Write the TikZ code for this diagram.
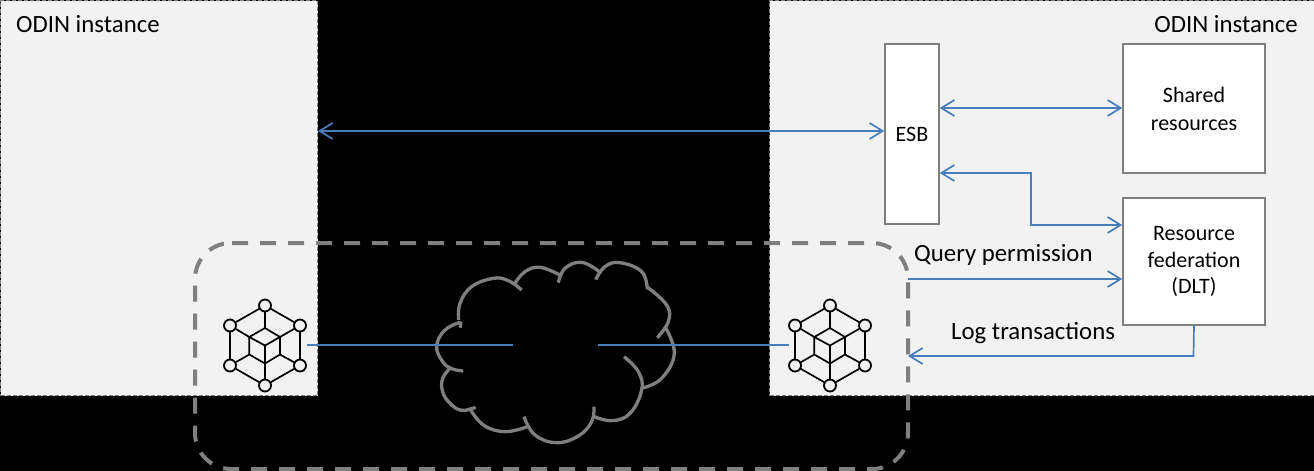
\documentclass[tikz,border=0pt]{standalone}
\usepackage{fontspec}
\setmainfont{Carlito}
\usetikzlibrary{arrows.meta}
\definecolor{panelfill}{HTML}{F2F2F2}
\definecolor{edgegray}{HTML}{7F7F7F}
\definecolor{linkblue}{HTML}{4A7EBB}
\tikzset{
  panel/.style={draw=edgegray,fill=panelfill,line width=1pt,dash pattern=on 4pt off 2pt,inner sep=0pt,minimum width=#1,minimum height=395pt},
  unit/.style={draw=edgegray,fill=white,line width=1.5pt,inner sep=0pt,align=center,font=\fontsize{22}{28}\selectfont},
  link/.style={draw=linkblue,line width=1.7pt},
  open both/.style={{Straight Barb[length=13pt,width=16pt,line width=1.7pt]}-{Straight Barb[length=13pt,width=16pt,line width=1.7pt]}},
  open end/.style={-{Straight Barb[length=13pt,width=16pt,line width=1.7pt]}},
  bigtext/.style={font=\fontsize{24.8}{28}\selectfont,inner sep=0pt,text=black},
  lobe/.style={draw=edgegray,line width=3.3pt,line cap=butt},
  hub/.style={circle,draw=black,fill=panelfill,line width=1.8pt,minimum size=12pt,inner sep=0pt},
  meshline/.style={draw=black,line width=1.7pt},
  pics/mesh/.style={code={
    \coordinate (-c) at (0,0);
    \draw[meshline] (-35,-20) -- (0,-40) -- (35,-20) -- (35,20) -- (0,40) -- (-35,20) -- cycle;
    \draw[meshline] (0,-17.5) -- (15,-8.5) -- (0,0) -- (-15.7,-8.5) -- cycle;
    \draw[meshline] (-15.7,-8.5) -- (-15.7,9) -- (0,18) -- (15,9) -- (15,-8.5);
    \draw[meshline] (0,0) -- (0,18);
    \draw[meshline] (0,-40) -- (0,-17.5);
    \draw[meshline] (0,18) -- (0,40);
    \draw[meshline] (-35,-20) -- (-15.7,-8.5);
    \draw[meshline] (35,-20) -- (15,-8.5);
    \draw[meshline] (-35,20) -- (-15.7,9);
    \draw[meshline] (35,20) -- (15,9);
    \foreach \hx/\hy in {0/-40,35/-20,35/20,0/40,-35/20,-35/-20}
      \node[hub] at (\hx,\hy) {};
  }}
}
\begin{document}
\begin{tikzpicture}[x=1pt,y=-1pt]
\useasboundingbox (0,0) rectangle (1314,471);
\fill[black] (0,0) rectangle (1314,471);
\node[panel=317pt,anchor=north west] (leftpanel) at (0,0) {};
\node[panel=545pt,anchor=north west] (rightpanel) at (769,0) {};
\node[bigtext,anchor=west] (lefttitle) at (16,24.5) {ODIN instance};
\node[bigtext,anchor=east] (righttitle) at (1298,24.5) {ODIN instance};

\node[unit,minimum width=54pt,minimum height=180pt] (esb) at (912,134) {ESB};
\node[unit,minimum width=142pt,minimum height=129pt] (shared) at (1194,108.5) {Shared\\resources};
\node[unit,minimum width=142pt,minimum height=127pt,font=\fontsize{22}{26.5}\selectfont] (fed) at (1194,261.5) {Resource\\federation\\(DLT)};

\pic (meshleft) at (265,345.5) {mesh};
\pic (meshright) at (830,345.5) {mesh};

% cloud
\begin{scope}[shift={(420,230)},x=0.3333pt,y=-0.3333pt]
\draw[lobe] plot[smooth,tension=0.7] coordinates {(120,293) (118,278) (72,303) (50,350) (68,395) (95,416) (130,423)};
\draw[lobe] plot[smooth,tension=0.7] coordinates {(92,413) (68,445) (68,485) (90,520) (125,541) (167,532)};
\draw[lobe] plot[smooth,tension=0.7] coordinates {(148,533) (190,585) (255,605) (322,590)};
\draw[lobe] plot[smooth,tension=0.7] coordinates {(312,560) (345,615) (410,638) (475,618) (515,575) (522,530)};
\draw[lobe] plot[smooth,tension=0.7] coordinates {(518,558) (575,572) (630,550) (665,480) (655,425) (612,380)};
\draw[lobe] plot[smooth,tension=0.7] coordinates {(668,474) (725,445) (763,370) (735,290)};
\draw[lobe] plot[smooth,tension=0.7] coordinates {(712,323) (745,275) (740,225) (680,170)};
\draw[lobe] plot[smooth,tension=0.7] coordinates {(682,178) (665,125) (600,98) (555,110) (527,149)};
\draw[lobe] plot[smooth,tension=0.7] coordinates {(538,125) (485,97) (435,115) (415,158)};
\draw[lobe] plot[smooth,tension=0.7] coordinates {(420,135) (360,112) (315,125) (285,160)};
\draw[lobe] plot[smooth,tension=0.7] coordinates {(305,180) (265,152) (220,145) (155,170) (120,220) (116,270)};
\end{scope}

% round dashed frame
\draw[draw=edgegray,line width=4pt,dash pattern=on 16pt off 12pt,rounded corners=36pt]
  (232,243) -- (908,243) -- (908,469) -- (195,469) -- (195,243) -- (232,243);

% connectors
\coordinate (cloudleft) at (513,345);
\coordinate (cloudright) at (598,345);
\coordinate (meshleftport) at (307,345);
\coordinate (meshrightport) at (789,345);
\coordinate (frameq) at (908,279);
\coordinate (framel) at (908,356);

\draw[link,open both] (leftpanel.east |- 0,131) -- (esb.west |- 0,131);
\draw[link,open both] (esb.east |- 0,108) -- (shared.west |- 0,108);
\draw[link,open both] (esb.east |- 0,173) -- (1031,173) -- (1031,225) -- (fed.west |- 0,225);
\draw[link,open end] (frameq) -- (fed.west |- frameq);
\draw[link,open end] (fed.south |- 0,325) -- (1193.5,356) -- (framel);
\draw[link] (meshleftport) -- (cloudleft);
\draw[link] (cloudright) -- (meshrightport);

\node[bigtext,anchor=west] (qlabel) at (914,254.5) {Query permission};
\node[bigtext,anchor=west] (llabel) at (951,333.5) {Log transactions};
\end{tikzpicture}
\end{document}
